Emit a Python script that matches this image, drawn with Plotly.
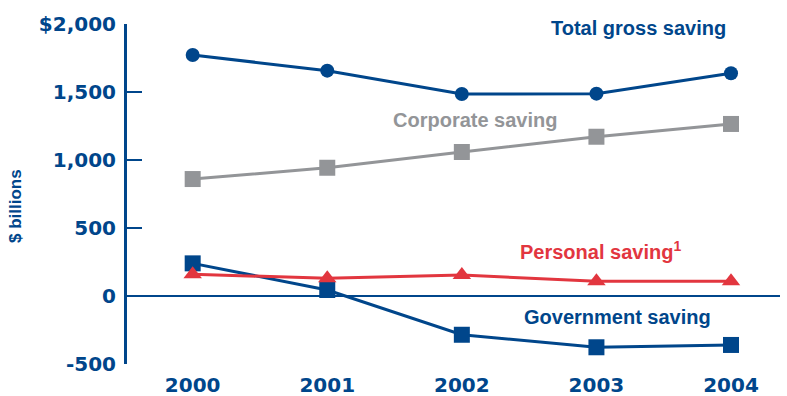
import plotly.graph_objects as go

# Saving by sector, $ billions
years = [2000, 2001, 2002, 2003, 2004]
year_labels = ["2000", "2001", "2002", "2003", "2004"]
total_gross = [1772, 1657, 1485, 1488, 1638]
corporate = [860, 943, 1059, 1171, 1265]
personal = [160, 130, 154, 108, 108]
government = [240, 44, -285, -377, -360]

y_ticks = [-500, 0, 500, 1000, 1500, 2000]
y_tick_text = ["-500", "0", "500", "1,000", "1,500", "$2,000"]

NAVY = "#00468b"
GRAY = "#939598"
RED = "#e2363f"
LABEL_FONT = "Liberation Sans, Arial, sans-serif"
TICK_FONT = "DejaVu Sans, sans-serif"

fig = go.Figure()

fig.add_trace(go.Scatter(
    x=years, y=corporate, mode="lines+markers",
    line=dict(color=GRAY, width=3),
    marker=dict(symbol="square", size=16, color=GRAY),
))
fig.add_trace(go.Scatter(
    x=years, y=total_gross, mode="lines+markers",
    line=dict(color=NAVY, width=3),
    marker=dict(symbol="circle", size=14, color=NAVY),
))
fig.add_trace(go.Scatter(
    x=years, y=government, mode="lines+markers",
    line=dict(color=NAVY, width=3),
    marker=dict(symbol="square", size=16, color=NAVY),
))
fig.add_trace(go.Scatter(
    x=years, y=personal, mode="lines+markers",
    line=dict(color=RED, width=3),
    marker=dict(symbol="triangle-up", size=16, color=RED),
))

# Series labels
labels = [
    ("Total gross saving", 2003.31, 1971, NAVY),
    ("Corporate saving", 2002.10, 1294, GRAY),
    ("Personal saving<sup>1</sup>", 2003.03, 338, RED),
    ("Government saving", 2003.16, -154, NAVY),
]
for text, lx, ly, col in labels:
    fig.add_annotation(
        x=lx, y=ly, xref="x", yref="y", text=text, showarrow=False,
        font=dict(family=LABEL_FONT, size=20, color=col, weight="bold"),
        xanchor="center", yanchor="middle",
    )

# Axis title, rotated, left of the tick labels
fig.add_annotation(
    x=(15 - 127) / 653, y=(396 - 32 - 206) / 340,
    xref="paper", yref="paper", text="$ billions",
    showarrow=False, textangle=-90,
    font=dict(family=LABEL_FONT, size=17, color=NAVY, weight="bold"),
    xanchor="center", yanchor="middle",
)

fig.update_layout(
    width=787, height=396,
    margin=dict(l=127, r=7, t=24, b=32),
    paper_bgcolor="white", plot_bgcolor="white",
    showlegend=False,
    xaxis=dict(
        range=[1999.512, 2004.364],
        tickvals=years, ticktext=year_labels,
        showline=False, showgrid=False, zeroline=False, ticks="",
        tickfont=dict(family=TICK_FONT, size=20, color=NAVY, weight="bold"),
        ticklabelstandoff=7, automargin=False,
    ),
    yaxis=dict(
        range=[-500, 2000],
        tickvals=y_ticks, ticktext=y_tick_text,
        showline=True, linecolor=NAVY, linewidth=3,
        ticks="inside", ticklen=15, tickwidth=2, tickcolor=NAVY,
        showgrid=False,
        zeroline=True, zerolinecolor=NAVY, zerolinewidth=2,
        tickfont=dict(family=TICK_FONT, size=20, color=NAVY, weight="bold"),
        ticklabelstandoff=4, automargin=False,
    ),
)

fig.write_html("out.html")
